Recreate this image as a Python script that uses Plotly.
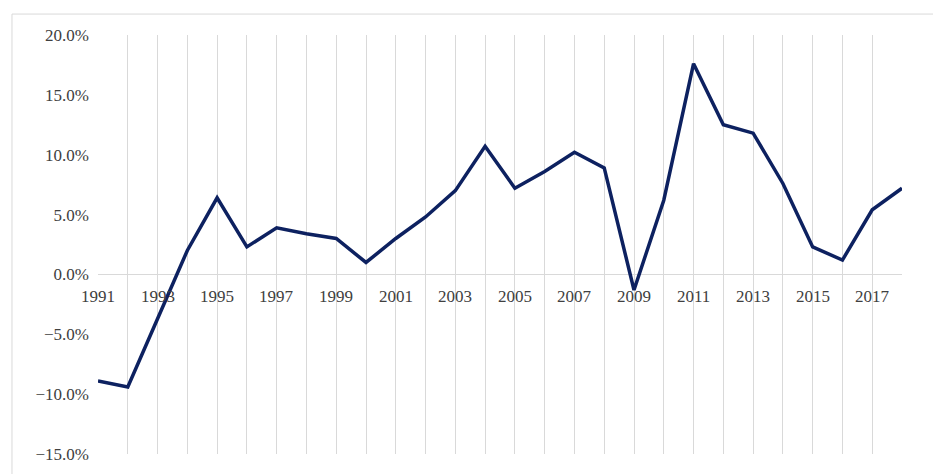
import plotly.graph_objects as go

years = list(range(1991, 2019))
growth = [-8.9, -9.4, -3.7, 2.0, 6.4, 2.3, 3.9, 3.4, 3.0, 1.0, 3.0, 4.8, 7.0, 10.7,
          7.2, 8.6, 10.2, 8.9, -1.3, 6.2, 17.6, 12.5, 11.8, 7.6, 2.3, 1.2, 5.4, 7.2]
label_years = list(range(1991, 2019, 2))

serif = "Liberation Serif"
fig = go.Figure(go.Scatter(x=years, y=growth, mode="lines",
                           line=dict(color="#0d2160", width=3.5)))

for yr in label_years:
    fig.add_annotation(x=yr, y=0, xref="x", yref="y", text=str(yr), showarrow=False,
                       yanchor="top", yshift=-11, font=dict(family=serif, size=17, color="#404040"))

fig.update_layout(
    width=941, height=474, plot_bgcolor="white", paper_bgcolor="white",
    margin=dict(l=90, r=47, t=27, b=28), showlegend=False,
    font=dict(family=serif, size=17, color="#404040"),
    xaxis=dict(range=[1991, 2018], tickvals=years, showticklabels=False,
               showgrid=True, gridcolor="#d9d9d9", zeroline=False),
    yaxis=dict(range=[-15, 20], dtick=5, tickformat=".1f", ticksuffix="%",
               ticklabelstandoff=8,
               tickfont=dict(family=serif, size=17, color="#404040"),
               showgrid=False, zeroline=True, zerolinecolor="#d9d9d9", zerolinewidth=1),
    shapes=[dict(type="rect", xref="paper", yref="paper", x0=-0.107, x1=1.055, y0=-0.07, y1=1.05,
                 line=dict(color="#d9d9d9", width=1))],
)
fig.write_html("out.html")
